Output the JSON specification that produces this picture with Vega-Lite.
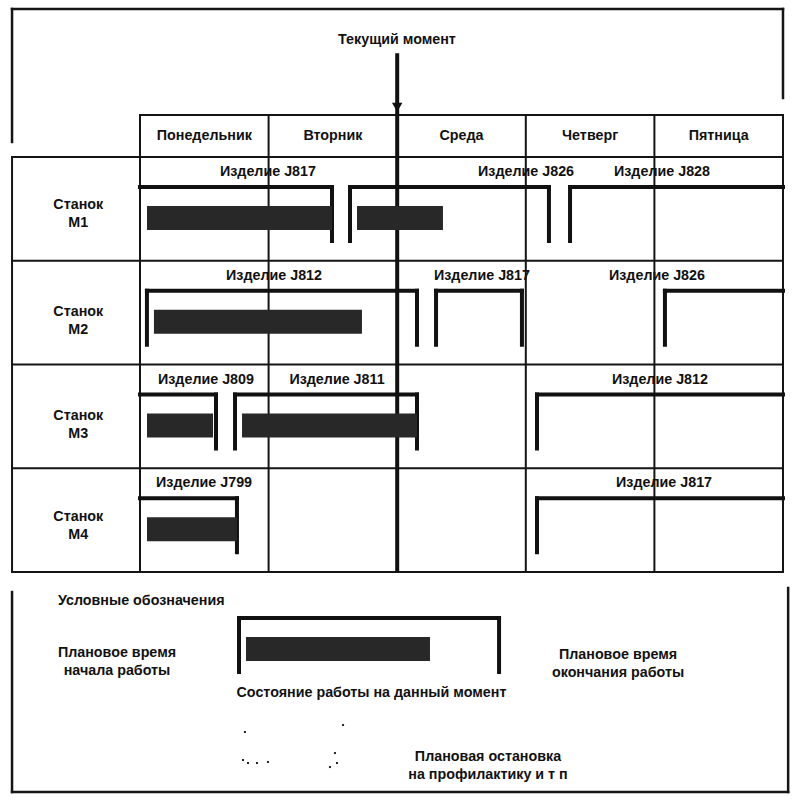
{
  "$schema": "https://vega.github.io/schema/vega-lite/v6.json",
  "width": 800,
  "height": 800,
  "autosize": {"type": "fit", "contains": "padding"},
  "padding": 0,
  "background": "white",
  "config": {"view": {"stroke": null}},
  "datasets": {
    "frame": [
      {"day": -0.995, "day2": 5.0, "row": -1.4265, "row2": -1.4265},
      {"day": -0.995, "day2": -0.995, "row": -1.4265, "row2": -0.145},
      {"day": 5.0, "day2": 5.0, "row": -1.4265, "row2": -0.569},
      {"day": -0.995, "day2": -0.995, "row": 4.193, "row2": 6.12},
      {"day": -0.995, "day2": 5.04, "row": 6.12, "row2": 6.12},
      {"day": 5.04, "day2": 5.04, "row": 4.154, "row2": 6.12}
    ],
    "grid": [
      {"day": 0, "day2": 5, "row": -0.405, "row2": -0.405},
      {"day": -0.995, "day2": 5, "row": 0, "row2": 0},
      {"day": -0.995, "day2": 5, "row": 1, "row2": 1},
      {"day": -0.995, "day2": 5, "row": 2, "row2": 2},
      {"day": -0.995, "day2": 5, "row": 3, "row2": 3},
      {"day": -0.995, "day2": 5, "row": 4, "row2": 4},
      {"day": -0.995, "day2": -0.995, "row": 0, "row2": 4},
      {"day": 0, "day2": 0, "row": -0.405, "row2": 4},
      {"day": 1, "day2": 1, "row": -0.405, "row2": 4},
      {"day": 3, "day2": 3, "row": -0.405, "row2": 4},
      {"day": 4, "day2": 4, "row": -0.405, "row2": 4},
      {"day": 5, "day2": 5, "row": -0.405, "row2": 4}
    ],
    "now": [
      {"day": 2.0, "row": -1.0, "row2": 4, "arrow_row": -0.48}
    ],
    "jobs": [
      {"machine": "M1", "row": 0, "label": "Изделие J817", "start": 0, "end": 1.493, "done": 1.493, "open_start": true, "open_end": false, "label_day": 0.995},
      {"machine": "M1", "row": 0, "label": "Изделие J826", "start": 1.633, "end": 3.18, "done": 2.356, "open_start": false, "open_end": false, "label_day": 3.002},
      {"machine": "M1", "row": 0, "label": "Изделие J828", "start": 3.344, "end": 5.0, "done": null, "open_start": false, "open_end": true, "label_day": 4.059},
      {"machine": "M2", "row": 1, "label": "Изделие J812", "start": 0.054, "end": 2.154, "done": 1.726, "open_start": false, "open_end": false, "label_day": 1.042},
      {"machine": "M2", "row": 1, "label": "Изделие J817", "start": 2.302, "end": 2.97, "done": null, "open_start": false, "open_end": false, "label_day": 2.659},
      {"machine": "M2", "row": 1, "label": "Изделие J826", "start": 4.082, "end": 5.0, "done": null, "open_start": false, "open_end": true, "label_day": 4.02},
      {"machine": "M3", "row": 2, "label": "Изделие J809", "start": 0, "end": 0.591, "done": 0.568, "open_start": true, "open_end": false, "label_day": 0.513},
      {"machine": "M3", "row": 2, "label": "Изделие J811", "start": 0.739, "end": 2.154, "done": 2.154, "open_start": false, "open_end": false, "label_day": 1.532},
      {"machine": "M3", "row": 2, "label": "Изделие J812", "start": 3.087, "end": 5.0, "done": null, "open_start": false, "open_end": true, "label_day": 4.043},
      {"machine": "M4", "row": 3, "label": "Изделие J799", "start": 0, "end": 0.754, "done": 0.754, "open_start": true, "open_end": false, "label_day": 0.498},
      {"machine": "M4", "row": 3, "label": "Изделие J817", "start": 3.087, "end": 5.0, "done": null, "open_start": false, "open_end": true, "label_day": 4.075},
      {"machine": "legend", "row": 4.154, "label": null, "start": 0.77, "end": 2.792, "done": 2.255, "open_start": false, "open_end": false, "label_day": null}
    ],
    "texts": [
      {"text": "Текущий момент", "day": 1.998, "row": -1.128, "role": "center"},
      {"text": "Понедельник", "day": 0.5, "row": -0.2024, "role": "center"},
      {"text": "Вторник", "day": 1.5, "row": -0.2024, "role": "center"},
      {"text": "Среда", "day": 2.5, "row": -0.2024, "role": "center"},
      {"text": "Четверг", "day": 3.5, "row": -0.2024, "role": "center"},
      {"text": "Пятница", "day": 4.5, "row": -0.2024, "role": "center"},
      {"text": "Станок\nM1", "day": -0.48, "row": 0.46, "role": "center"},
      {"text": "Станок\nM2", "day": -0.48, "row": 1.49, "role": "center"},
      {"text": "Станок\nM3", "day": -0.48, "row": 2.5, "role": "center"},
      {"text": "Станок\nM4", "day": -0.48, "row": 3.47, "role": "center"},
      {"text": "Условные обозначения", "day": -0.638, "row": 4.28, "role": "left"},
      {"text": "Плановое время\nначала работы", "day": -0.179, "row": 4.781, "role": "center"},
      {"text": "Состояние работы на данный момент", "day": 1.8, "row": 5.166, "role": "center"},
      {"text": "Плановое время\nокончания работы", "day": 3.717, "row": 4.8, "role": "center"},
      {"text": "Плановая остановка\nна профилактику и т п", "day": 2.706, "row": 5.783, "role": "center"}
    ],
    "specks": [
      {"day": 0.816, "row": 5.542},
      {"day": 1.579, "row": 5.475},
      {"day": 0.801, "row": 5.812},
      {"day": 0.84, "row": 5.841},
      {"day": 0.91, "row": 5.841},
      {"day": 0.995, "row": 5.831},
      {"day": 1.516, "row": 5.745},
      {"day": 1.477, "row": 5.88},
      {"day": 1.532, "row": 5.841}
    ]
  },
  "layer": [
    {
      "data": {"name": "grid"},
      "mark": {"type": "rule", "color": "#151515", "strokeWidth": 2, "strokeCap": "square"},
      "encoding": {
        "x": {"field": "day", "type": "quantitative", "scale": {"domain": [-1.0886, 5.1322], "nice": false, "zero": false}, "axis": null},
        "x2": {"field": "day2"},
        "y": {"field": "row", "type": "quantitative", "scale": {"domain": [-1.5133, 6.1976], "nice": false, "zero": false, "reverse": true}, "axis": null},
        "y2": {"field": "row2"}
      }
    },
    {
      "data": {"name": "frame"},
      "mark": {"type": "rule", "color": "#151515", "strokeWidth": 2.5, "strokeCap": "square"},
      "encoding": {
        "x": {"field": "day", "type": "quantitative", "scale": {"domain": [-1.0886, 5.1322], "nice": false, "zero": false}, "axis": null},
        "x2": {"field": "day2"},
        "y": {"field": "row", "type": "quantitative", "scale": {"domain": [-1.5133, 6.1976], "nice": false, "zero": false, "reverse": true}, "axis": null},
        "y2": {"field": "row2"}
      }
    },
    {
      "data": {"name": "now"},
      "mark": {"type": "rule", "color": "#111111", "strokeWidth": 4},
      "encoding": {
        "x": {"field": "day", "type": "quantitative", "scale": {"domain": [-1.0886, 5.1322], "nice": false, "zero": false}, "axis": null},
        "y": {"field": "row", "type": "quantitative", "scale": {"domain": [-1.5133, 6.1976], "nice": false, "zero": false, "reverse": true}, "axis": null},
        "y2": {"field": "row2"}
      }
    },
    {
      "data": {"name": "now"},
      "mark": {"type": "point", "shape": "triangle-down", "filled": true, "size": 110, "color": "#111111", "opacity": 1},
      "encoding": {
        "x": {"field": "day", "type": "quantitative", "scale": {"domain": [-1.0886, 5.1322], "nice": false, "zero": false}, "axis": null},
        "y": {"field": "arrow_row", "type": "quantitative", "scale": {"domain": [-1.5133, 6.1976], "nice": false, "zero": false, "reverse": true}, "axis": null}
      }
    },
    {
      "data": {"name": "jobs"},
      "mark": {"type": "rule", "color": "#111111", "strokeWidth": 4, "strokeCap": "square", "yOffset": 30},
      "encoding": {
        "x": {"field": "start", "type": "quantitative", "scale": {"domain": [-1.0886, 5.1322], "nice": false, "zero": false}, "axis": null},
        "x2": {"field": "end"},
        "y": {"field": "row", "type": "quantitative", "scale": {"domain": [-1.5133, 6.1976], "nice": false, "zero": false, "reverse": true}, "axis": null}
      }
    },
    {
      "data": {"name": "jobs"},
      "transform": [{"filter": "!datum.open_start"}],
      "mark": {"type": "rule", "color": "#111111", "strokeWidth": 4, "strokeCap": "square", "yOffset": 30, "y2Offset": 84},
      "encoding": {
        "x": {"field": "start", "type": "quantitative", "scale": {"domain": [-1.0886, 5.1322], "nice": false, "zero": false}, "axis": null},
        "y": {"field": "row", "type": "quantitative", "scale": {"domain": [-1.5133, 6.1976], "nice": false, "zero": false, "reverse": true}, "axis": null},
        "y2": {"field": "row"}
      }
    },
    {
      "data": {"name": "jobs"},
      "transform": [{"filter": "!datum.open_end"}],
      "mark": {"type": "rule", "color": "#111111", "strokeWidth": 4, "strokeCap": "square", "yOffset": 30, "y2Offset": 84},
      "encoding": {
        "x": {"field": "end", "type": "quantitative", "scale": {"domain": [-1.0886, 5.1322], "nice": false, "zero": false}, "axis": null},
        "y": {"field": "row", "type": "quantitative", "scale": {"domain": [-1.5133, 6.1976], "nice": false, "zero": false, "reverse": true}, "axis": null},
        "y2": {"field": "row"}
      }
    },
    {
      "data": {"name": "jobs"},
      "transform": [{"filter": "datum.done != null"}],
      "mark": {"type": "rect", "color": "#282828", "xOffset": 7, "yOffset": 49, "y2Offset": 73},
      "encoding": {
        "x": {"field": "start", "type": "quantitative", "scale": {"domain": [-1.0886, 5.1322], "nice": false, "zero": false}, "axis": null},
        "x2": {"field": "done"},
        "y": {"field": "row", "type": "quantitative", "scale": {"domain": [-1.5133, 6.1976], "nice": false, "zero": false, "reverse": true}, "axis": null},
        "y2": {"field": "row"}
      }
    },
    {
      "data": {"name": "jobs"},
      "transform": [{"filter": "datum.label != null"}],
      "mark": {"type": "text", "font": "Liberation Sans", "fontWeight": "bold", "fontSize": 14.3, "color": "#111111", "align": "center", "baseline": "middle", "yOffset": 15},
      "encoding": {
        "x": {"field": "label_day", "type": "quantitative", "scale": {"domain": [-1.0886, 5.1322], "nice": false, "zero": false}, "axis": null},
        "y": {"field": "row", "type": "quantitative", "scale": {"domain": [-1.5133, 6.1976], "nice": false, "zero": false, "reverse": true}, "axis": null},
        "text": {"field": "label"}
      }
    },
    {
      "data": {"name": "texts"},
      "transform": [{"filter": "datum.role == 'center'"}],
      "mark": {"type": "text", "font": "Liberation Sans", "fontWeight": "bold", "fontSize": 14.3, "color": "#111111", "align": "center", "baseline": "middle", "lineBreak": "\n", "lineHeight": 18},
      "encoding": {
        "x": {"field": "day", "type": "quantitative", "scale": {"domain": [-1.0886, 5.1322], "nice": false, "zero": false}, "axis": null},
        "y": {"field": "row", "type": "quantitative", "scale": {"domain": [-1.5133, 6.1976], "nice": false, "zero": false, "reverse": true}, "axis": null},
        "text": {"field": "text"}
      }
    },
    {
      "data": {"name": "texts"},
      "transform": [{"filter": "datum.role == 'left'"}],
      "mark": {"type": "text", "font": "Liberation Sans", "fontWeight": "bold", "fontSize": 14.3, "color": "#111111", "align": "left", "baseline": "middle"},
      "encoding": {
        "x": {"field": "day", "type": "quantitative", "scale": {"domain": [-1.0886, 5.1322], "nice": false, "zero": false}, "axis": null},
        "y": {"field": "row", "type": "quantitative", "scale": {"domain": [-1.5133, 6.1976], "nice": false, "zero": false, "reverse": true}, "axis": null},
        "text": {"field": "text"}
      }
    },
    {
      "data": {"name": "specks"},
      "mark": {"type": "square", "size": 4, "color": "#222222", "opacity": 1},
      "encoding": {
        "x": {"field": "day", "type": "quantitative", "scale": {"domain": [-1.0886, 5.1322], "nice": false, "zero": false}, "axis": null},
        "y": {"field": "row", "type": "quantitative", "scale": {"domain": [-1.5133, 6.1976], "nice": false, "zero": false, "reverse": true}, "axis": null}
      }
    }
  ]
}
